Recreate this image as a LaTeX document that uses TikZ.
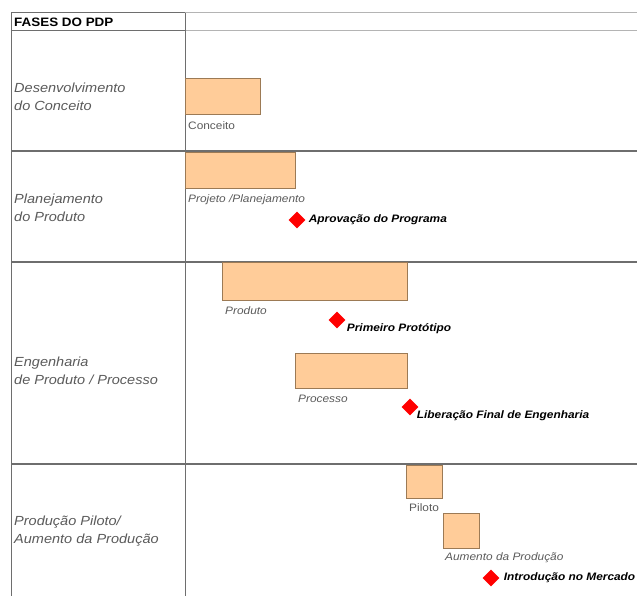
\documentclass[tikz,border=0pt]{standalone}
\usepackage{fontspec}
\setmainfont{Liberation Sans}[FakeStretch=1.1]
\usetikzlibrary{shapes.geometric,positioning}
\definecolor{barfill}{HTML}{FFCC99}
\definecolor{barline}{HTML}{9C7A55}
\definecolor{gridline}{HTML}{6E6E6E}
\definecolor{gridlight}{HTML}{B4B4B4}
\definecolor{labelgray}{HTML}{5A5A5A}
\definecolor{marker}{HTML}{FF0000}
\begin{document}
\begin{tikzpicture}[x=1pt,y=-1pt,
  bar/.style={draw=barline, fill=barfill, line width=0.9pt, anchor=north west, inner sep=0pt},
  barlabel/.style={anchor=north west, inner sep=0pt, text=labelgray, font=\fontsize{10.8}{12}\selectfont\itshape},
  phase/.style={anchor=west, align=left, inner sep=0pt, text=labelgray, font=\fontsize{13.2}{17.5}\selectfont\itshape},
  milestone/.style={diamond, fill=marker, inner sep=0pt, minimum size=17pt},
  mslabel/.style={anchor=west, inner sep=0pt, font=\fontsize{10.8}{12}\selectfont\bfseries\itshape}]
\useasboundingbox (0,0) rectangle (637,596);

% grid of the table
\draw[gridlight, line width=1pt] (185,13) -- (637,13);
\draw[gridlight, line width=1pt] (185,31) -- (637,31);
\draw[gridline, line width=1pt] (11,13) -- (185,13);
\draw[gridline, line width=1pt] (11,31) -- (185,31);
\foreach \y in {151,262,464}
  \draw[gridline, line width=1.4pt] (11,\y) -- (637,\y);
\draw[gridline, line width=1pt] (11,13) -- (11,596);
\draw[gridline, line width=1pt] (185,13) -- (185,596);

% phases
\node[anchor=west, inner sep=0pt, font=\fontsize{12.2}{14}\selectfont\bfseries] (head) at (14,22) {FASES DO PDP};
\node[phase] (conc) at (14,97) {Desenvolvimento\\do Conceito};
\node[phase] (plan) at (14,208) {Planejamento\\do Produto};
\node[phase] (eng) at (14,371) {Engenharia\\de Produto / Processo};
\node[phase] (prod) at (14,531) {Produção Piloto/\\Aumento da Produção};

% activities
\node[bar, minimum width=75pt, minimum height=36pt] (conceito) at (185,78) {};
\node[barlabel, font=\fontsize{10.8}{12}\selectfont] at ([shift={(3,7)}]conceito.south west) {Conceito};
\node[bar, minimum width=110pt, minimum height=36pt] (projeto) at (185,152) {};
\node[barlabel] at ([shift={(3,6)}]projeto.south west) {Projeto /Planejamento};
\node[bar, minimum width=185pt, minimum height=38pt] (produto) at (222,262) {};
\node[barlabel] at ([shift={(3,6)}]produto.south west) {Produto};
\node[bar, minimum width=112pt, minimum height=35pt] (processo) at (295,353) {};
\node[barlabel] at ([shift={(3,6)}]processo.south west) {Processo};
\node[bar, minimum width=36pt, minimum height=33pt] (piloto) at (406,465) {};
\node[barlabel, font=\fontsize{10.8}{12}\selectfont] at ([shift={(3,5)}]piloto.south west) {Piloto};
\node[bar, minimum width=36pt, minimum height=35pt] (aumento) at (443,513) {};
\node[barlabel] at ([shift={(2,4)}]aumento.south west) {Aumento da Produção};

% milestones
\node[milestone] (aprov) at (297,220) {};
\node[mslabel] at ([xshift=3pt]aprov.east) {Aprovação do Programa};
\node[milestone] (proto) at (337,320) {};
\node[mslabel] at ([shift={(1,9)}]proto.east) {Primeiro Protótipo};
\node[milestone] (liber) at (410,407) {};
\node[mslabel] at ([shift={(-2,9)}]liber.east) {Liberação Final de Engenharia};
\node[milestone] (intro) at (491,578) {};
\node[mslabel] at ([xshift=4pt]intro.east) {Introdução no Mercado};
\end{tikzpicture}
\end{document}
